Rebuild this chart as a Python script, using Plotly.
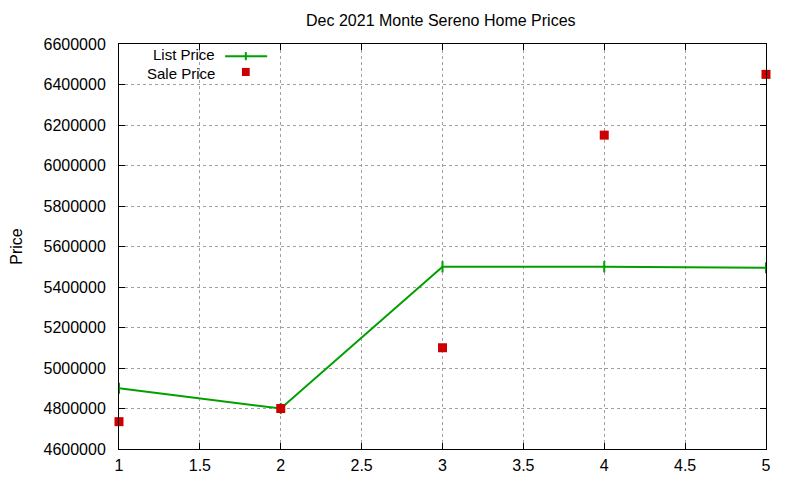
import plotly.graph_objects as go

# data
x_vals = [1, 2, 3, 4, 5]
list_price = [4900000, 4800000, 5500000, 5500000, 5495000]
sale_price = [4735000, 4800000, 5100000, 6150000, 6450000]
y_ticks = list(range(4600000, 6600001, 200000))
x_ticks = [1, 1.5, 2, 2.5, 3, 3.5, 4, 4.5, 5]

green = '#00a000'
red = '#cc0000'
font = 'Liberation Sans, Arial, sans-serif'

fig = go.Figure()
fig.add_trace(go.Scatter(x=x_vals, y=list_price, name='List Price', mode='lines+markers',
                         line=dict(color=green, width=2),
                         marker=dict(symbol='line-ns', size=8, color=green,
                                     line=dict(color=green, width=2)),
                         cliponaxis=False))
fig.add_trace(go.Scatter(x=x_vals, y=sale_price, name='Sale Price', mode='markers',
                         marker=dict(symbol='square', size=9, color=red),
                         cliponaxis=False))

# gnuplot style legend: text right aligned, sample to the right
fig.add_annotation(xref='paper', yref='paper', x=0.151, y=0.974, text='List Price',
                   showarrow=False, xanchor='right', yanchor='middle',
                   font=dict(family=font, size=15, color='black'))
fig.add_annotation(xref='paper', yref='paper', x=0.151, y=0.928, text='Sale Price',
                   showarrow=False, xanchor='right', yanchor='middle',
                   font=dict(family=font, size=15, color='black'))
fig.add_shape(type='line', xref='paper', yref='paper', x0=0.164, x1=0.229, y0=0.97, y1=0.97,
              line=dict(color=green, width=2))
fig.add_shape(type='line', xref='paper', yref='paper', x0=0.196, x1=0.196, y0=0.960, y1=0.980,
              line=dict(color=green, width=2))
fig.add_shape(type='rect', xref='paper', yref='paper', x0=0.19, x1=0.202, y0=0.921, y1=0.941,
              line=dict(width=0), fillcolor=red)

fig.update_layout(
    width=800, height=480,
    margin=dict(l=111, r=42, t=36, b=39),
    plot_bgcolor='white', paper_bgcolor='white',
    showlegend=False,
    font=dict(family=font, size=16, color='black'),
    title=dict(text='Dec 2021 Monte Sereno Home Prices', x=0.541, y=0.975,
               xanchor='center', yanchor='middle', font=dict(size=16)),
)
fig.update_xaxes(range=[1, 5], tickvals=x_ticks, ticktext=[str(t) for t in x_ticks],
                 showgrid=True, gridcolor='#a0a0a0', griddash='dot', gridwidth=1,
                 showline=True, linecolor='black', linewidth=1, mirror='ticks',
                 ticks='inside', ticklen=6, tickcolor='black', zeroline=False,
                 automargin=False, ticklabelstandoff=2)
fig.update_yaxes(range=[4600000, 6600000], tickvals=y_ticks, ticktext=[str(t) for t in y_ticks],
                 title=dict(text='Price', standoff=34, font=dict(size=16)),
                 showgrid=True, gridcolor='#a0a0a0', griddash='dot', gridwidth=1,
                 showline=True, linecolor='black', linewidth=1, mirror='ticks',
                 ticks='inside', ticklen=6, tickcolor='black', zeroline=False,
                 automargin=False, ticklabelstandoff=9)

fig.write_html('out.html')
